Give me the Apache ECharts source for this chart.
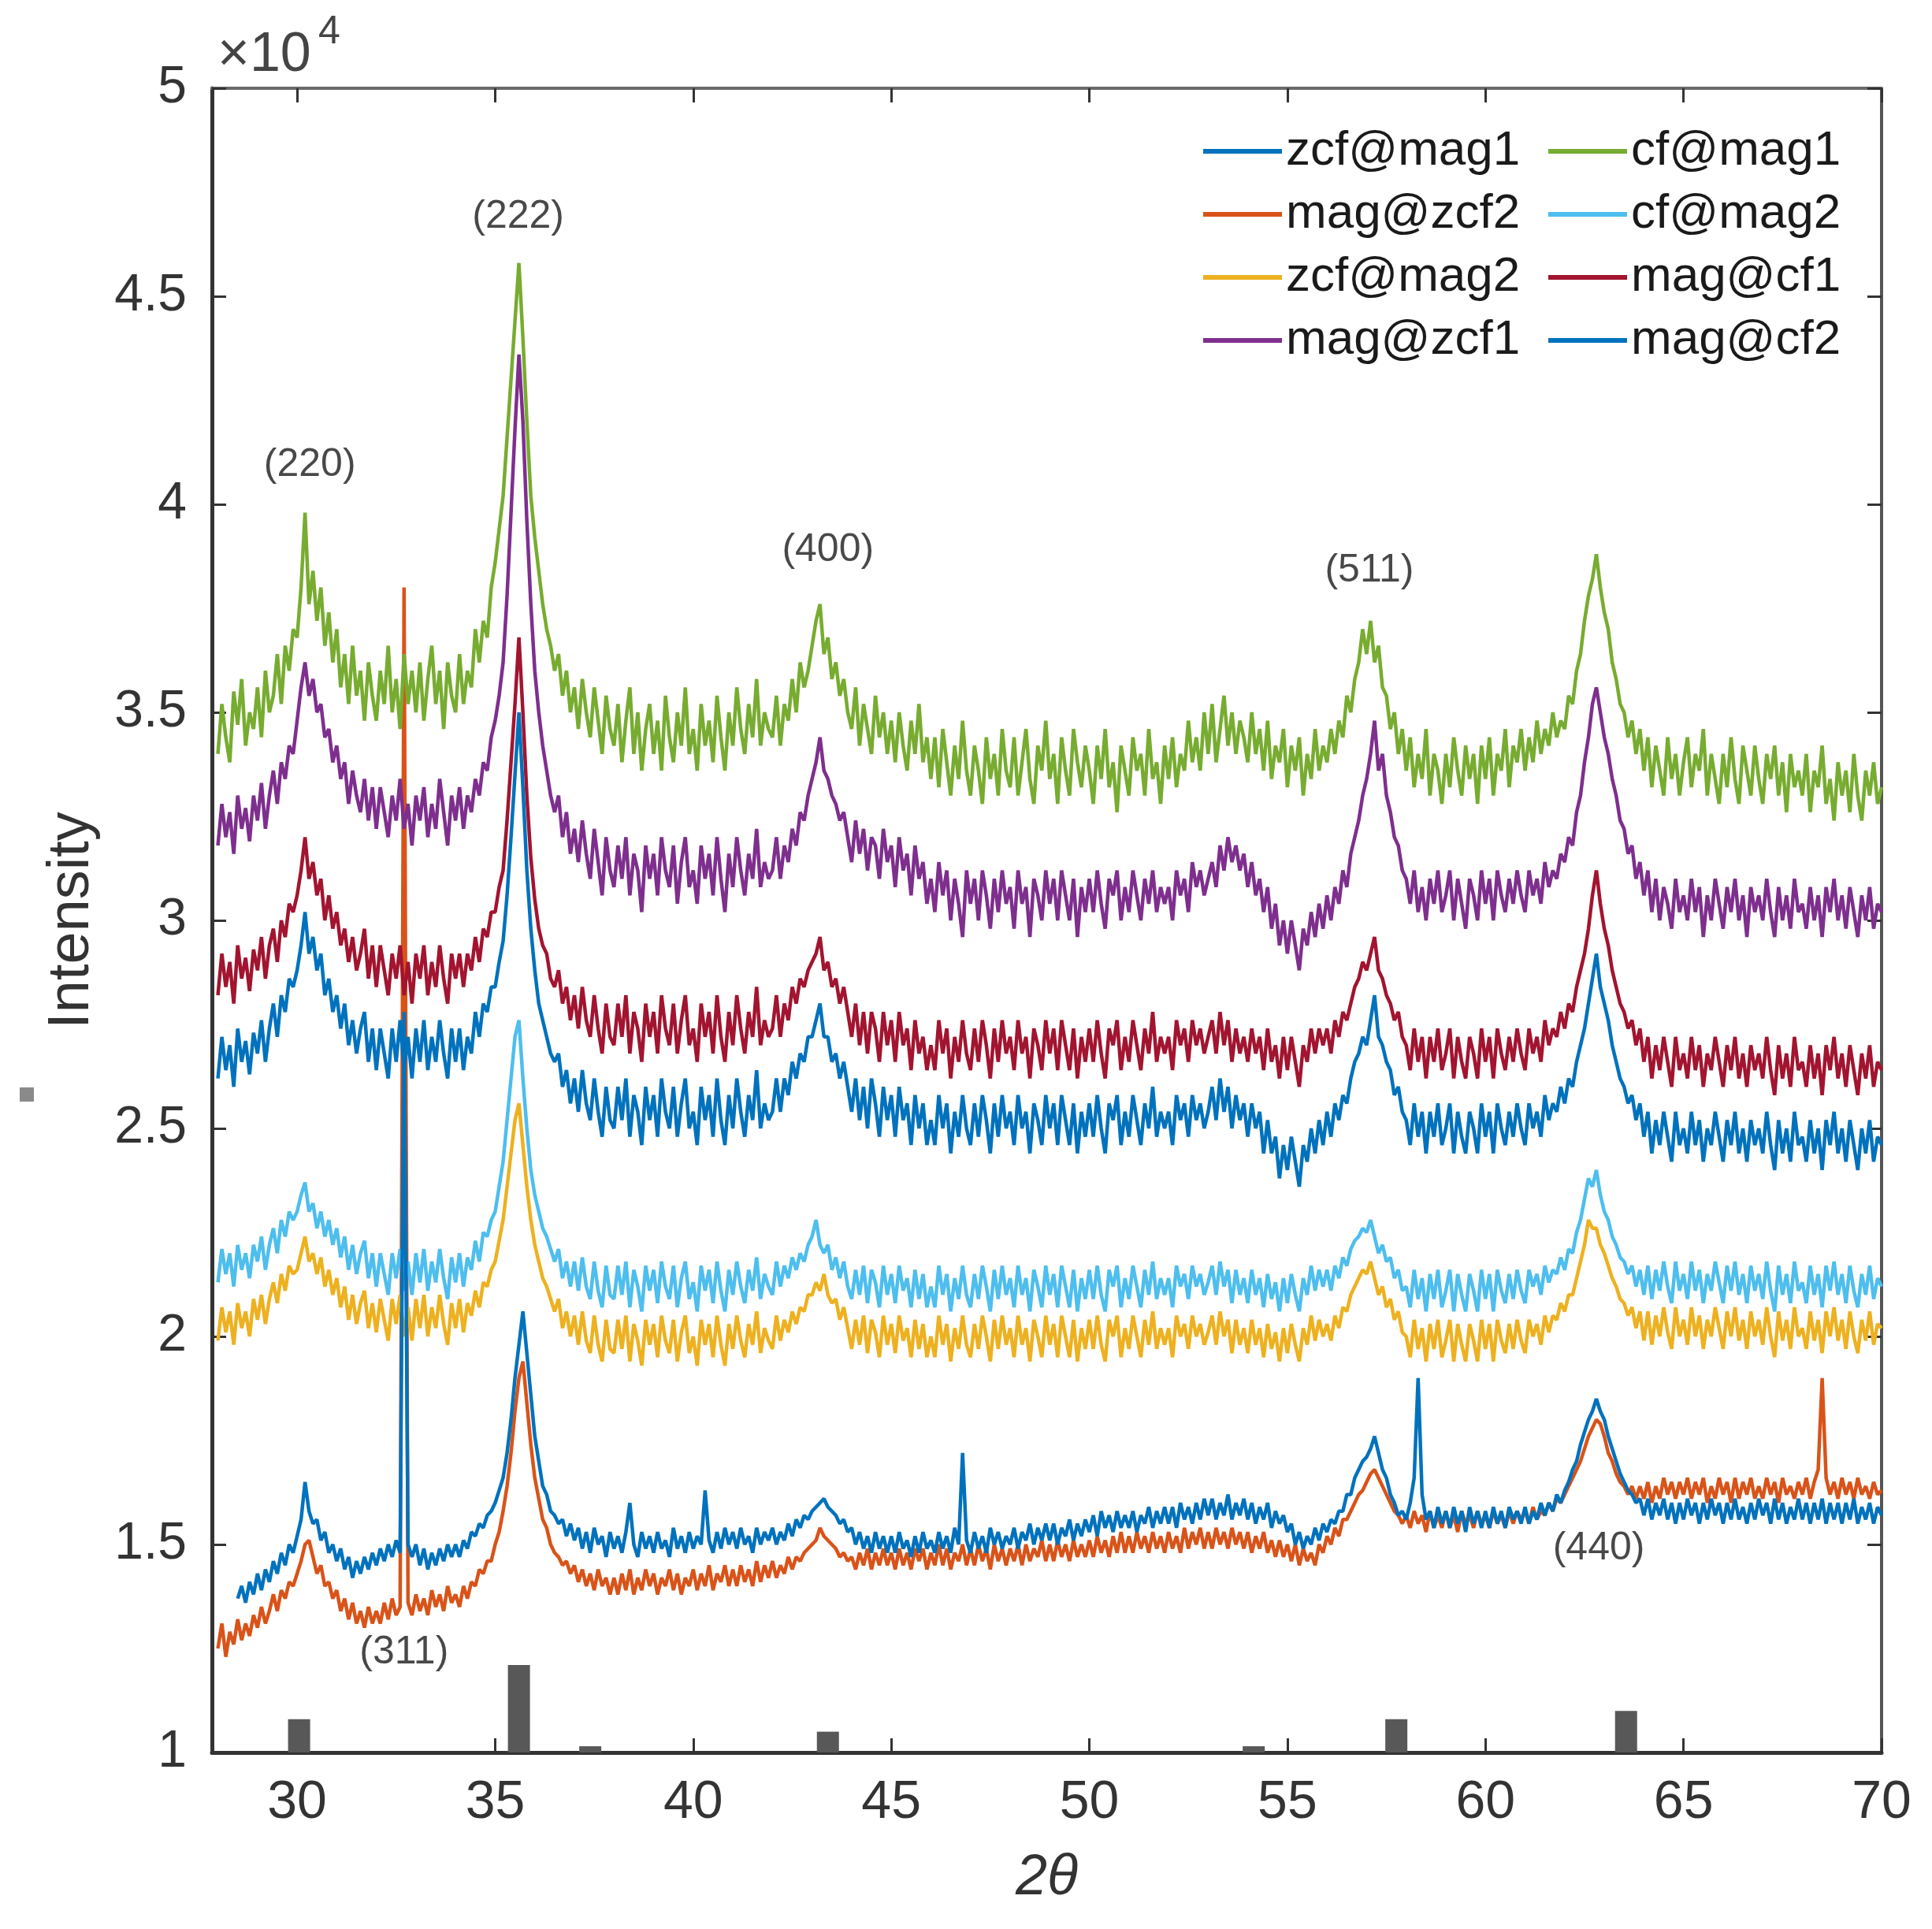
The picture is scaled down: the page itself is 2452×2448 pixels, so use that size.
<!DOCTYPE html>
<html>
<head>
<meta charset="utf-8">
<title>XRD patterns</title>
<script src="https://cdn.jsdelivr.net/npm/echarts@6.0.0/dist/echarts.min.js"></script>
<style>
  html, body { margin: 0; padding: 0; background: #fff; }
  #chart { width: 2452px; height: 2448px; }
</style>
</head>
<body>
<div id="chart"></div>
<script>
// scan 28 -> 70 deg, values read every 0.1 deg (intensity in 1e4 counts)
// one row = one degree
var thetaStart = 28, thetaStep = 0.1;

var zcfMag1 = [
  null, null, null, null, null, 1.37, 1.40, 1.36, 1.41, 1.38,
  1.43, 1.39, 1.44, 1.41, 1.46, 1.43, 1.48, 1.45, 1.50, 1.48,
  1.52, 1.56, 1.65, 1.58, 1.55, 1.56, 1.51, 1.53, 1.48, 1.50,
  1.46, 1.49, 1.44, 1.47, 1.42, 1.46, 1.43, 1.47, 1.44, 1.48,
  1.45, 1.49, 1.46, 1.50, 1.47, 1.51, 1.48, 2.78, 1.50, 1.47,
  1.50, 1.45, 1.49, 1.44, 1.48, 1.45, 1.49, 1.46, 1.50, 1.47,
  1.50, 1.47, 1.51, 1.49, 1.53, 1.52, 1.55, 1.54, 1.57, 1.58,
  1.60, 1.63, 1.66, 1.72, 1.80, 1.90, 1.98, 2.06, 1.96, 1.86,
  1.76, 1.70, 1.64, 1.62, 1.58, 1.57, 1.55, 1.56, 1.52, 1.55,
  1.51, 1.54, 1.49, 1.53, 1.48, 1.54, 1.50, 1.52, 1.47, 1.53,
  1.49, 1.52, 1.48, 1.53, 1.60, 1.50, 1.47, 1.53, 1.49, 1.52,
  1.48, 1.53, 1.49, 1.51, 1.47, 1.54, 1.49, 1.52, 1.48, 1.53,
  1.49, 1.52, 1.50, 1.63, 1.51, 1.48, 1.53, 1.49, 1.54, 1.50,
  1.53, 1.49, 1.54, 1.50, 1.52, 1.48, 1.54, 1.50, 1.53, 1.51,
  1.54, 1.50, 1.53, 1.51, 1.55, 1.52, 1.56, 1.54, 1.57, 1.56,
  1.58, 1.59, 1.60, 1.61, 1.59, 1.58, 1.57, 1.55, 1.56, 1.53,
  1.54, 1.50, 1.53, 1.49, 1.52, 1.48, 1.53, 1.49, 1.52, 1.48,
  1.52, 1.48, 1.53, 1.49, 1.51, 1.47, 1.52, 1.48, 1.53, 1.49,
  1.51, 1.48, 1.53, 1.49, 1.52, 1.48, 1.54, 1.50, 1.72, 1.51,
  1.48, 1.53, 1.49, 1.52, 1.48, 1.54, 1.50, 1.53, 1.49, 1.52,
  1.50, 1.54, 1.49, 1.53, 1.51, 1.55, 1.50, 1.54, 1.51, 1.55,
  1.51, 1.55, 1.50, 1.54, 1.52, 1.56, 1.51, 1.55, 1.52, 1.56,
  1.53, 1.57, 1.52, 1.58, 1.54, 1.57, 1.53, 1.58, 1.54, 1.57,
  1.54, 1.58, 1.53, 1.57, 1.55, 1.59, 1.54, 1.58, 1.55, 1.59,
  1.55, 1.59, 1.54, 1.60, 1.56, 1.59, 1.55, 1.60, 1.56, 1.61,
  1.57, 1.61, 1.56, 1.60, 1.57, 1.62, 1.56, 1.60, 1.57, 1.61,
  1.56, 1.60, 1.55, 1.59, 1.56, 1.60, 1.54, 1.58, 1.55, 1.57,
  1.53, 1.55, 1.50, 1.53, 1.49, 1.52, 1.50, 1.54, 1.51, 1.55,
  1.53, 1.56, 1.55, 1.58, 1.58, 1.62, 1.62, 1.66, 1.68, 1.70,
  1.71, 1.73, 1.76, 1.72, 1.68, 1.66, 1.62, 1.60, 1.57, 1.58,
  1.56, 1.60, 1.66, 1.90, 1.62, 1.56, 1.58, 1.54, 1.59, 1.55,
  1.58, 1.54, 1.59, 1.55, 1.58, 1.53, 1.59, 1.55, 1.58, 1.54,
  1.58, 1.54, 1.59, 1.55, 1.58, 1.54, 1.59, 1.56, 1.58, 1.55,
  1.59, 1.55, 1.58, 1.56, 1.60, 1.57, 1.60, 1.58, 1.62, 1.60,
  1.63, 1.65, 1.68, 1.70, 1.74, 1.77, 1.80, 1.82, 1.85, 1.82,
  1.80, 1.76, 1.73, 1.70, 1.67, 1.65, 1.63, 1.62, 1.60, 1.61,
  1.57, 1.61, 1.56, 1.60, 1.57, 1.61, 1.56, 1.60, 1.55, 1.60,
  1.56, 1.61, 1.57, 1.60, 1.55, 1.60, 1.56, 1.61, 1.57, 1.60,
  1.55, 1.60, 1.56, 1.61, 1.56, 1.59, 1.55, 1.60, 1.56, 1.61,
  1.57, 1.60, 1.55, 1.61, 1.56, 1.60, 1.55, 1.59, 1.56, 1.61,
  1.56, 1.60, 1.55, 1.60, 1.56, 1.61, 1.55, 1.60, 1.56, 1.60,
  1.55, 1.60, 1.56, 1.61, 1.55, 1.59, 1.56, 1.60, 1.55, 1.59,
  1.57
];

var magZcf2 = [
  1.25, 1.31, 1.23, 1.29, 1.26, 1.32, 1.27, 1.31, 1.28, 1.33,
  1.30, 1.35, 1.31, 1.34, 1.38, 1.34, 1.39, 1.37, 1.41, 1.40,
  1.43, 1.46, 1.50, 1.51, 1.47, 1.43, 1.45, 1.40, 1.41, 1.37,
  1.39, 1.34, 1.37, 1.32, 1.36, 1.31, 1.34, 1.30, 1.35, 1.31,
  1.34, 1.31, 1.36, 1.32, 1.37, 1.33, 1.35, 3.80, 1.36, 1.33,
  1.38, 1.34, 1.37, 1.33, 1.39, 1.35, 1.38, 1.34, 1.40, 1.36,
  1.38, 1.35, 1.40, 1.37, 1.41, 1.40, 1.44, 1.43, 1.46, 1.46,
  1.50, 1.53, 1.58, 1.64, 1.72, 1.82, 1.90, 1.94, 1.84, 1.74,
  1.66, 1.61, 1.56, 1.54, 1.50, 1.48, 1.47, 1.45, 1.46, 1.43,
  1.45, 1.41, 1.44, 1.40, 1.43, 1.39, 1.44, 1.40, 1.42, 1.38,
  1.42, 1.38, 1.43, 1.39, 1.44, 1.38, 1.42, 1.39, 1.44, 1.40,
  1.43, 1.38, 1.42, 1.40, 1.44, 1.39, 1.43, 1.38, 1.42, 1.40,
  1.44, 1.39, 1.43, 1.40, 1.45, 1.39, 1.43, 1.41, 1.45, 1.40,
  1.44, 1.40, 1.45, 1.41, 1.44, 1.40, 1.46, 1.41, 1.45, 1.42,
  1.46, 1.42, 1.45, 1.43, 1.47, 1.44, 1.47, 1.46, 1.48, 1.49,
  1.50, 1.51, 1.54, 1.52, 1.51, 1.50, 1.49, 1.47, 1.48, 1.46,
  1.47, 1.44, 1.48, 1.45, 1.49, 1.44, 1.48, 1.45, 1.49, 1.45,
  1.48, 1.44, 1.49, 1.45, 1.48, 1.44, 1.49, 1.46, 1.49, 1.44,
  1.48, 1.45, 1.50, 1.45, 1.49, 1.44, 1.48, 1.46, 1.50, 1.45,
  1.49, 1.45, 1.50, 1.46, 1.49, 1.44, 1.50, 1.46, 1.49, 1.45,
  1.49, 1.46, 1.50, 1.45, 1.50, 1.46, 1.49, 1.47, 1.51, 1.46,
  1.50, 1.46, 1.51, 1.47, 1.50, 1.46, 1.51, 1.47, 1.50, 1.47,
  1.51, 1.47, 1.52, 1.48, 1.51, 1.47, 1.52, 1.48, 1.53, 1.48,
  1.52, 1.48, 1.53, 1.49, 1.52, 1.48, 1.53, 1.49, 1.52, 1.48,
  1.53, 1.49, 1.52, 1.48, 1.54, 1.49, 1.53, 1.50, 1.54, 1.49,
  1.53, 1.49, 1.54, 1.50, 1.53, 1.49, 1.54, 1.50, 1.53, 1.49,
  1.53, 1.48, 1.52, 1.49, 1.53, 1.48, 1.51, 1.47, 1.51, 1.47,
  1.50, 1.46, 1.50, 1.45, 1.49, 1.46, 1.48, 1.45, 1.50, 1.48,
  1.52, 1.50, 1.54, 1.52, 1.56, 1.56, 1.58, 1.60, 1.62, 1.63,
  1.65, 1.67, 1.68, 1.66, 1.64, 1.62, 1.60, 1.58, 1.57, 1.55,
  1.57, 1.54, 1.58, 1.55, 1.57, 1.53, 1.58, 1.54, 1.57, 1.54,
  1.58, 1.54, 1.57, 1.53, 1.58, 1.55, 1.57, 1.54, 1.58, 1.55,
  1.57, 1.54, 1.58, 1.55, 1.57, 1.54, 1.58, 1.55, 1.58, 1.56,
  1.58, 1.55, 1.59, 1.56, 1.58, 1.57, 1.60, 1.58, 1.61, 1.60,
  1.62, 1.64, 1.66, 1.68, 1.70, 1.73, 1.76, 1.78, 1.80, 1.79,
  1.76, 1.72, 1.70, 1.67, 1.65, 1.64, 1.62, 1.64, 1.61, 1.64,
  1.61, 1.65, 1.60, 1.64, 1.61, 1.66, 1.62, 1.65, 1.61, 1.65,
  1.62, 1.66, 1.61, 1.65, 1.62, 1.66, 1.60, 1.64, 1.61, 1.66,
  1.62, 1.65, 1.60, 1.66, 1.61, 1.65, 1.62, 1.66, 1.61, 1.64,
  1.61, 1.66, 1.62, 1.65, 1.60, 1.66, 1.62, 1.64, 1.61, 1.65,
  1.62, 1.66, 1.61, 1.65, 1.68, 1.90, 1.66, 1.62, 1.65, 1.61,
  1.66, 1.62, 1.65, 1.61, 1.66, 1.62, 1.64, 1.61, 1.65, 1.62,
  1.63
];

var zcfMag2 = [
  1.99, 2.07, 2.01, 2.06, 1.98, 2.08, 2.02, 2.06, 2.00, 2.09,
  2.04, 2.10, 2.03, 2.09, 2.13, 2.08, 2.15, 2.11, 2.17, 2.15,
  2.16, 2.20, 2.24, 2.18, 2.20, 2.15, 2.19, 2.12, 2.16, 2.10,
  2.14, 2.07, 2.12, 2.04, 2.10, 2.03, 2.08, 2.11, 2.02, 2.08,
  2.01, 2.09, 2.04, 1.99, 2.09, 2.03, 2.10, 2.00, 2.07, 1.99,
  2.09, 2.02, 2.10, 2.00, 2.07, 2.02, 2.10, 2.03, 1.98, 2.08,
  2.02, 2.09, 2.01, 2.08, 2.05, 2.11, 2.07, 2.13, 2.12, 2.16,
  2.18, 2.23, 2.28, 2.36, 2.44, 2.52, 2.56, 2.46, 2.36, 2.28,
  2.22, 2.18, 2.14, 2.12, 2.09, 2.06, 2.09, 2.02, 2.06, 2.00,
  2.05, 1.98, 2.06, 1.99, 1.96, 2.05, 1.98, 1.94, 2.04, 1.97,
  1.96, 2.04, 1.97, 2.05, 1.94, 2.03, 1.99, 1.93, 2.04, 1.98,
  2.03, 1.95, 2.05, 1.99, 1.96, 2.04, 1.94, 2.01, 2.05, 1.96,
  2.00, 1.93, 2.04, 1.98, 2.03, 1.95, 2.05, 1.98, 1.93, 2.03,
  1.97, 2.05, 1.99, 1.95, 2.03, 1.98, 2.06, 1.96, 2.02, 1.99,
  1.97, 2.05, 1.99, 2.04, 2.01, 2.06, 2.03, 2.07, 2.06, 2.10,
  2.10, 2.13, 2.11, 2.15, 2.10, 2.08, 2.09, 2.04, 2.07, 2.02,
  1.97, 2.04, 1.98, 2.05, 1.96, 2.04, 2.01, 1.95, 2.05, 1.98,
  2.03, 1.96, 2.05, 1.99, 2.02, 1.95, 2.04, 1.97, 2.03, 1.95,
  2.00, 1.95, 2.05, 1.98, 2.03, 1.94, 2.02, 1.97, 2.05, 1.98,
  1.95, 2.03, 1.97, 2.05, 2.00, 1.94, 2.04, 1.97, 2.05, 1.98,
  2.02, 1.95, 2.05, 1.98, 2.02, 1.94, 2.04, 2.00, 1.95, 2.05,
  1.98, 2.03, 1.95, 2.05, 2.00, 1.95, 2.04, 1.94, 2.02, 1.97,
  2.04, 1.97, 2.05, 1.98, 1.94, 2.04, 2.00, 2.05, 1.95, 2.02,
  1.97, 2.05, 2.00, 1.95, 2.04, 1.98, 2.06, 1.97, 2.02, 1.98,
  2.02, 1.95, 2.05, 2.00, 2.03, 1.97, 2.05, 2.00, 2.03, 1.98,
  2.01, 2.05, 1.98, 2.06, 2.00, 2.04, 1.96, 2.04, 1.98, 2.02,
  1.96, 2.04, 1.98, 2.02, 1.95, 2.03, 1.97, 2.01, 1.94, 2.02,
  1.96, 2.03, 1.98, 1.94, 2.02, 1.98, 2.05, 1.99, 2.04, 2.00,
  2.03, 1.99, 2.05, 2.02, 2.07, 2.06, 2.10, 2.12, 2.14, 2.16,
  2.15, 2.18, 2.14, 2.10, 2.12, 2.07, 2.09, 2.04, 2.06, 2.01,
  2.00, 1.95, 2.04, 1.97, 2.02, 1.94, 2.03, 1.97, 2.04, 1.95,
  1.99, 2.04, 1.94, 2.03, 1.98, 1.94, 2.03, 1.99, 1.94, 2.04,
  1.97, 2.03, 1.94, 2.04, 1.99, 1.96, 2.03, 1.97, 2.04, 1.99,
  1.96, 2.04, 2.00, 2.03, 1.98, 2.05, 2.01, 2.05, 2.04, 2.08,
  2.06, 2.10, 2.10, 2.14, 2.18, 2.22, 2.28, 2.26, 2.26, 2.22,
  2.20, 2.17, 2.14, 2.12, 2.09, 2.08, 2.05, 2.07, 2.02, 2.06,
  1.99, 2.06, 1.98, 2.05, 2.00, 2.07, 2.01, 1.97, 2.07, 2.00,
  2.04, 1.98, 2.07, 2.00, 2.05, 1.97, 2.04, 2.00, 2.07, 2.02,
  1.97, 2.06, 2.00, 2.07, 1.99, 2.04, 1.97, 2.06, 2.00, 2.04,
  1.98, 2.07, 2.00, 1.95, 2.06, 1.99, 2.04, 1.97, 2.07, 2.00,
  2.02, 1.97, 2.06, 1.99, 2.04, 1.96, 2.06, 2.00, 2.07, 1.99,
  2.04, 1.97, 2.06, 2.00, 1.96, 2.04, 1.99, 2.06, 1.98, 2.03,
  2.02
];

var magZcf1 = [
  3.18, 3.28, 3.20, 3.26, 3.16, 3.30, 3.22, 3.27, 3.19, 3.30,
  3.24, 3.33, 3.22, 3.30, 3.36, 3.28, 3.38, 3.34, 3.42, 3.40,
  3.48, 3.56, 3.62, 3.54, 3.58, 3.50, 3.52, 3.44, 3.46, 3.38,
  3.42, 3.34, 3.38, 3.28, 3.36, 3.30, 3.26, 3.34, 3.24, 3.32,
  3.22, 3.32, 3.26, 3.20, 3.30, 3.24, 3.34, 3.22, 3.28, 3.18,
  3.30, 3.24, 3.32, 3.20, 3.28, 3.22, 3.34, 3.26, 3.18, 3.30,
  3.24, 3.32, 3.22, 3.30, 3.26, 3.34, 3.30, 3.38, 3.36, 3.44,
  3.48, 3.54, 3.62, 3.78, 3.98, 4.18, 4.36, 4.20, 3.96, 3.76,
  3.60, 3.50, 3.42, 3.36, 3.30, 3.26, 3.30, 3.20, 3.26, 3.16,
  3.22, 3.14, 3.24, 3.16, 3.10, 3.22, 3.14, 3.06, 3.20, 3.12,
  3.08, 3.18, 3.10, 3.20, 3.06, 3.16, 3.12, 3.02, 3.18, 3.10,
  3.16, 3.06, 3.20, 3.12, 3.08, 3.18, 3.04, 3.14, 3.20, 3.08,
  3.12, 3.04, 3.18, 3.10, 3.16, 3.06, 3.20, 3.10, 3.02, 3.16,
  3.08, 3.20, 3.12, 3.06, 3.16, 3.10, 3.22, 3.08, 3.14, 3.10,
  3.12, 3.20, 3.10, 3.18, 3.14, 3.22, 3.18, 3.26, 3.24, 3.30,
  3.34, 3.38, 3.44, 3.36, 3.34, 3.30, 3.28, 3.24, 3.26, 3.20,
  3.14, 3.24, 3.16, 3.22, 3.12, 3.20, 3.18, 3.10, 3.22, 3.14,
  3.18, 3.08, 3.20, 3.12, 3.16, 3.06, 3.18, 3.10, 3.14, 3.04,
  3.10, 3.02, 3.14, 3.06, 3.12, 3.00, 3.10, 3.04, 2.96, 3.12,
  3.04, 3.10, 3.00, 3.12, 3.06, 2.98, 3.10, 3.02, 3.12, 3.04,
  3.08, 2.98, 3.12, 3.04, 3.08, 2.96, 3.10, 3.06, 3.00, 3.12,
  3.04, 3.10, 3.00, 3.12, 3.06, 3.00, 3.10, 2.96, 3.08, 3.02,
  3.10, 3.02, 3.12, 3.04, 2.98, 3.10, 3.06, 3.12, 3.00, 3.08,
  3.02, 3.12, 3.06, 3.00, 3.10, 3.04, 3.12, 3.02, 3.08, 3.04,
  3.08, 3.00, 3.12, 3.06, 3.10, 3.02, 3.14, 3.08, 3.12, 3.06,
  3.10, 3.14, 3.08, 3.18, 3.12, 3.20, 3.14, 3.18, 3.12, 3.16,
  3.08, 3.14, 3.06, 3.10, 3.02, 3.08, 2.98, 3.04, 2.94, 3.00,
  2.92, 3.00, 2.94, 2.88, 2.98, 2.94, 3.02, 2.96, 3.04, 2.98,
  3.06, 3.00, 3.08, 3.04, 3.12, 3.08, 3.16, 3.20, 3.24, 3.30,
  3.34, 3.40, 3.48, 3.36, 3.40, 3.30, 3.26, 3.20, 3.18, 3.12,
  3.10, 3.04, 3.12, 3.02, 3.08, 3.00, 3.10, 3.04, 3.12, 3.02,
  3.06, 3.12, 3.00, 3.10, 3.04, 2.98, 3.10, 3.06, 3.00, 3.12,
  3.04, 3.10, 3.00, 3.12, 3.06, 3.02, 3.10, 3.04, 3.12, 3.06,
  3.02, 3.12, 3.06, 3.10, 3.04, 3.14, 3.08, 3.12, 3.10, 3.16,
  3.14, 3.20, 3.18, 3.26, 3.30, 3.38, 3.44, 3.52, 3.56, 3.50,
  3.44, 3.40, 3.34, 3.30, 3.24, 3.22, 3.16, 3.18, 3.10, 3.14,
  3.06, 3.12, 3.02, 3.10, 3.00, 3.08, 3.04, 2.98, 3.10, 3.02,
  3.06, 3.00, 3.10, 3.02, 3.08, 2.96, 3.06, 3.00, 3.10, 3.04,
  2.98, 3.08, 3.02, 3.10, 3.00, 3.06, 2.96, 3.08, 3.02, 3.06,
  3.00, 3.10, 3.02, 2.96, 3.08, 3.00, 3.06, 2.98, 3.10, 3.02,
  3.04, 2.98, 3.08, 3.00, 3.06, 2.96, 3.08, 3.02, 3.10, 3.00,
  3.06, 2.98, 3.08, 3.02, 2.96, 3.06, 3.00, 3.08, 2.98, 3.04,
  3.02
];

var cfMag1 = [
  3.40, 3.52, 3.44, 3.38, 3.55, 3.47, 3.58, 3.42, 3.50, 3.46,
  3.56, 3.44, 3.60, 3.50, 3.54, 3.64, 3.52, 3.66, 3.60, 3.70,
  3.68, 3.80, 3.98, 3.76, 3.84, 3.72, 3.80, 3.66, 3.74, 3.62,
  3.70, 3.56, 3.64, 3.52, 3.66, 3.54, 3.60, 3.48, 3.62, 3.54,
  3.48, 3.60, 3.52, 3.66, 3.50, 3.58, 3.46, 3.64, 3.52, 3.60,
  3.50, 3.62, 3.48, 3.58, 3.66, 3.52, 3.60, 3.46, 3.62, 3.54,
  3.50, 3.64, 3.52, 3.60, 3.56, 3.70, 3.62, 3.72, 3.68, 3.80,
  3.86, 3.94, 4.02, 4.16, 4.30, 4.44, 4.58, 4.40, 4.20, 4.02,
  3.92, 3.84, 3.76, 3.70, 3.66, 3.60, 3.64, 3.54, 3.60, 3.50,
  3.56, 3.46, 3.58, 3.50, 3.44, 3.56, 3.48, 3.40, 3.54, 3.46,
  3.42, 3.52, 3.38, 3.48, 3.56, 3.40, 3.50, 3.36, 3.46, 3.52,
  3.40, 3.48, 3.36, 3.54, 3.44, 3.38, 3.50, 3.42, 3.56, 3.40,
  3.46, 3.36, 3.52, 3.42, 3.48, 3.38, 3.54, 3.44, 3.36, 3.50,
  3.42, 3.56, 3.46, 3.40, 3.52, 3.44, 3.58, 3.42, 3.50, 3.46,
  3.44, 3.54, 3.42, 3.52, 3.48, 3.58, 3.50, 3.62, 3.56, 3.60,
  3.66, 3.72, 3.76, 3.64, 3.68, 3.58, 3.62, 3.54, 3.58, 3.50,
  3.46, 3.56, 3.42, 3.52, 3.46, 3.40, 3.54, 3.44, 3.50, 3.40,
  3.48, 3.38, 3.50, 3.42, 3.36, 3.48, 3.40, 3.52, 3.38, 3.44,
  3.34, 3.44, 3.32, 3.46, 3.38, 3.30, 3.42, 3.34, 3.48, 3.36,
  3.30, 3.42, 3.36, 3.28, 3.44, 3.34, 3.40, 3.30, 3.46, 3.36,
  3.32, 3.44, 3.30, 3.38, 3.46, 3.34, 3.28, 3.42, 3.36, 3.48,
  3.34, 3.40, 3.28, 3.44, 3.36, 3.30, 3.46, 3.38, 3.32, 3.42,
  3.36, 3.28, 3.42, 3.34, 3.46, 3.32, 3.38, 3.26, 3.42, 3.36,
  3.30, 3.44, 3.36, 3.40, 3.30, 3.46, 3.34, 3.38, 3.28, 3.42,
  3.34, 3.44, 3.32, 3.40, 3.36, 3.48, 3.38, 3.44, 3.36, 3.50,
  3.40, 3.52, 3.38, 3.46, 3.54, 3.42, 3.50, 3.40, 3.48, 3.44,
  3.38, 3.50, 3.40, 3.46, 3.36, 3.48, 3.34, 3.42, 3.38, 3.46,
  3.32, 3.42, 3.36, 3.44, 3.30, 3.40, 3.34, 3.46, 3.36, 3.42,
  3.38, 3.46, 3.40, 3.48, 3.44, 3.54, 3.50, 3.58, 3.62, 3.70,
  3.64, 3.72, 3.62, 3.66, 3.56, 3.54, 3.46, 3.50, 3.40, 3.46,
  3.36, 3.44, 3.32, 3.40, 3.34, 3.46, 3.30, 3.40, 3.36, 3.28,
  3.40, 3.32, 3.44, 3.36, 3.30, 3.42, 3.34, 3.40, 3.28, 3.42,
  3.34, 3.44, 3.30, 3.40, 3.36, 3.46, 3.32, 3.42, 3.38, 3.46,
  3.36, 3.44, 3.38, 3.48, 3.40, 3.46, 3.42, 3.50, 3.44, 3.48,
  3.46, 3.54, 3.52, 3.60, 3.64, 3.72, 3.78, 3.82, 3.88, 3.80,
  3.74, 3.70, 3.62, 3.58, 3.52, 3.50, 3.44, 3.48, 3.40, 3.46,
  3.36, 3.44, 3.32, 3.42, 3.36, 3.30, 3.44, 3.34, 3.40, 3.30,
  3.38, 3.44, 3.32, 3.40, 3.36, 3.46, 3.30, 3.40, 3.34, 3.28,
  3.40, 3.32, 3.44, 3.34, 3.28, 3.42, 3.36, 3.30, 3.42, 3.34,
  3.28, 3.40, 3.34, 3.42, 3.30, 3.38, 3.26, 3.40, 3.32, 3.36,
  3.30, 3.40, 3.26, 3.36, 3.32, 3.42, 3.28, 3.34, 3.24, 3.38,
  3.30, 3.36, 3.26, 3.40, 3.30, 3.24, 3.36, 3.30, 3.38, 3.28,
  3.32
];

var cfMag2 = [
  2.13, 2.21, 2.15, 2.20, 2.12, 2.22, 2.16, 2.20, 2.14, 2.22,
  2.18, 2.24, 2.16, 2.22, 2.26, 2.20, 2.28, 2.24, 2.30, 2.28,
  2.30, 2.34, 2.37, 2.30, 2.32, 2.26, 2.30, 2.24, 2.28, 2.22,
  2.26, 2.19, 2.24, 2.16, 2.22, 2.15, 2.20, 2.23, 2.14, 2.20,
  2.12, 2.20, 2.15, 2.10, 2.20, 2.14, 2.21, 2.11, 2.18, 2.10,
  2.20, 2.13, 2.21, 2.11, 2.18, 2.13, 2.21, 2.14, 2.09, 2.19,
  2.13, 2.20, 2.12, 2.19, 2.16, 2.23, 2.18, 2.25, 2.24, 2.28,
  2.30, 2.36, 2.42, 2.52, 2.62, 2.72, 2.76, 2.62, 2.50, 2.40,
  2.34, 2.30, 2.26, 2.24, 2.21, 2.18, 2.21, 2.14, 2.18, 2.12,
  2.18, 2.11, 2.19, 2.12, 2.09, 2.18, 2.11, 2.07, 2.17, 2.10,
  2.09, 2.17, 2.10, 2.18, 2.07, 2.16, 2.12, 2.06, 2.17, 2.11,
  2.16, 2.08, 2.18, 2.12, 2.09, 2.17, 2.07, 2.14, 2.18, 2.09,
  2.13, 2.06, 2.17, 2.11, 2.16, 2.08, 2.18, 2.11, 2.06, 2.16,
  2.10, 2.18, 2.12, 2.08, 2.16, 2.11, 2.19, 2.09, 2.15, 2.12,
  2.10, 2.18, 2.12, 2.17, 2.14, 2.19, 2.16, 2.20, 2.18, 2.22,
  2.24, 2.28, 2.22, 2.20, 2.22, 2.16, 2.19, 2.14, 2.18, 2.12,
  2.09, 2.16, 2.10, 2.17, 2.08, 2.16, 2.13, 2.07, 2.17, 2.10,
  2.15, 2.08, 2.17, 2.11, 2.14, 2.07, 2.16, 2.09, 2.15, 2.07,
  2.12, 2.07, 2.17, 2.10, 2.15, 2.06, 2.14, 2.09, 2.17, 2.10,
  2.07, 2.15, 2.09, 2.17, 2.12, 2.06, 2.16, 2.09, 2.17, 2.10,
  2.14, 2.07, 2.17, 2.10, 2.14, 2.06, 2.16, 2.12, 2.07, 2.17,
  2.10, 2.15, 2.07, 2.17, 2.12, 2.07, 2.16, 2.06, 2.14, 2.09,
  2.16, 2.09, 2.17, 2.10, 2.06, 2.16, 2.12, 2.17, 2.07, 2.14,
  2.09, 2.17, 2.12, 2.07, 2.16, 2.10, 2.18, 2.09, 2.14, 2.10,
  2.14, 2.07, 2.17, 2.12, 2.15, 2.09, 2.17, 2.12, 2.15, 2.10,
  2.13, 2.17, 2.10, 2.18, 2.12, 2.16, 2.08, 2.16, 2.10, 2.14,
  2.08, 2.16, 2.10, 2.14, 2.07, 2.15, 2.09, 2.13, 2.06, 2.14,
  2.08, 2.15, 2.10, 2.06, 2.14, 2.10, 2.17, 2.11, 2.16, 2.12,
  2.16, 2.11, 2.17, 2.14, 2.19, 2.17, 2.21, 2.23, 2.24, 2.26,
  2.25, 2.28, 2.24, 2.20, 2.22, 2.18, 2.19, 2.14, 2.16, 2.11,
  2.12, 2.07, 2.16, 2.09, 2.14, 2.06, 2.15, 2.09, 2.16, 2.07,
  2.11, 2.16, 2.06, 2.15, 2.10, 2.06, 2.15, 2.11, 2.06, 2.16,
  2.09, 2.15, 2.06, 2.16, 2.11, 2.08, 2.15, 2.09, 2.16, 2.11,
  2.08, 2.16, 2.12, 2.15, 2.10, 2.17, 2.13, 2.16, 2.15, 2.19,
  2.16, 2.21, 2.20, 2.25, 2.28, 2.33, 2.38, 2.36, 2.40, 2.34,
  2.30, 2.28, 2.24, 2.22, 2.19, 2.18, 2.15, 2.17, 2.12, 2.16,
  2.10, 2.17, 2.09, 2.16, 2.11, 2.18, 2.12, 2.08, 2.18, 2.11,
  2.15, 2.09, 2.18, 2.11, 2.16, 2.08, 2.15, 2.11, 2.18, 2.13,
  2.08, 2.17, 2.11, 2.18, 2.10, 2.15, 2.08, 2.17, 2.11, 2.15,
  2.09, 2.18, 2.11, 2.06, 2.17, 2.10, 2.15, 2.08, 2.18, 2.11,
  2.13, 2.08, 2.17, 2.10, 2.15, 2.07, 2.17, 2.11, 2.18, 2.10,
  2.15, 2.08, 2.17, 2.11, 2.07, 2.15, 2.10, 2.17, 2.09, 2.14,
  2.12
];

var magCf1 = [
  2.82, 2.92, 2.84, 2.90, 2.80, 2.94, 2.86, 2.91, 2.83, 2.93,
  2.88, 2.96, 2.86, 2.94, 2.98, 2.90, 3.00, 2.96, 3.04, 3.02,
  3.06, 3.12, 3.20, 3.10, 3.14, 3.06, 3.10, 3.00, 3.06, 2.98,
  3.02, 2.94, 2.98, 2.90, 2.96, 2.88, 2.92, 2.98, 2.86, 2.94,
  2.84, 2.94, 2.88, 2.82, 2.92, 2.86, 2.94, 2.82, 2.90, 2.80,
  2.92, 2.86, 2.94, 2.82, 2.90, 2.84, 2.94, 2.86, 2.80, 2.92,
  2.86, 2.92, 2.84, 2.92, 2.88, 2.96, 2.90, 2.98, 2.96, 3.02,
  3.02, 3.08, 3.12, 3.24, 3.38, 3.52, 3.68, 3.50, 3.30, 3.15,
  3.05, 2.98, 2.94, 2.92, 2.86, 2.84, 2.88, 2.80, 2.84, 2.76,
  2.82, 2.74, 2.84, 2.76, 2.72, 2.82, 2.74, 2.68, 2.80, 2.72,
  2.70, 2.80, 2.72, 2.82, 2.68, 2.78, 2.74, 2.66, 2.80, 2.72,
  2.78, 2.68, 2.82, 2.74, 2.70, 2.80, 2.68, 2.76, 2.82, 2.70,
  2.74, 2.66, 2.80, 2.72, 2.78, 2.68, 2.82, 2.72, 2.66, 2.78,
  2.70, 2.82, 2.74, 2.68, 2.78, 2.72, 2.84, 2.70, 2.76, 2.72,
  2.74, 2.82, 2.72, 2.80, 2.76, 2.84, 2.80, 2.86, 2.84, 2.88,
  2.90, 2.92, 2.96, 2.88, 2.90, 2.84, 2.86, 2.80, 2.84, 2.78,
  2.72, 2.80, 2.70, 2.78, 2.68, 2.78, 2.74, 2.66, 2.78, 2.70,
  2.76, 2.66, 2.78, 2.70, 2.74, 2.64, 2.76, 2.68, 2.72, 2.64,
  2.70, 2.64, 2.76, 2.68, 2.74, 2.62, 2.72, 2.66, 2.76, 2.68,
  2.64, 2.74, 2.66, 2.76, 2.70, 2.62, 2.74, 2.66, 2.76, 2.68,
  2.72, 2.64, 2.76, 2.68, 2.72, 2.62, 2.74, 2.70, 2.64, 2.76,
  2.68, 2.74, 2.64, 2.76, 2.70, 2.64, 2.74, 2.62, 2.72, 2.66,
  2.74, 2.66, 2.76, 2.68, 2.62, 2.74, 2.70, 2.76, 2.64, 2.72,
  2.66, 2.76, 2.70, 2.64, 2.74, 2.68, 2.78, 2.66, 2.72, 2.68,
  2.72, 2.64, 2.76, 2.70, 2.74, 2.66, 2.76, 2.70, 2.74, 2.68,
  2.72, 2.76, 2.68, 2.78, 2.70, 2.76, 2.66, 2.74, 2.68, 2.72,
  2.66, 2.74, 2.68, 2.72, 2.64, 2.74, 2.66, 2.70, 2.62, 2.72,
  2.64, 2.72, 2.66, 2.60, 2.70, 2.66, 2.74, 2.68, 2.74, 2.70,
  2.74, 2.68, 2.76, 2.72, 2.78, 2.76, 2.80, 2.84, 2.86, 2.90,
  2.88, 2.92, 2.96, 2.88, 2.86, 2.82, 2.80, 2.76, 2.78, 2.72,
  2.70, 2.64, 2.74, 2.66, 2.72, 2.62, 2.72, 2.66, 2.74, 2.64,
  2.68, 2.74, 2.62, 2.72, 2.66, 2.62, 2.72, 2.68, 2.62, 2.74,
  2.66, 2.72, 2.62, 2.74, 2.68, 2.64, 2.72, 2.66, 2.74, 2.68,
  2.64, 2.74, 2.68, 2.72, 2.66, 2.76, 2.70, 2.74, 2.72, 2.78,
  2.74, 2.80, 2.78, 2.84, 2.88, 2.92, 2.98, 3.06, 3.12, 3.04,
  2.98, 2.94, 2.88, 2.84, 2.80, 2.78, 2.74, 2.76, 2.70, 2.74,
  2.66, 2.72, 2.62, 2.70, 2.64, 2.72, 2.66, 2.60, 2.72, 2.64,
  2.68, 2.62, 2.72, 2.64, 2.70, 2.60, 2.68, 2.64, 2.72, 2.66,
  2.60, 2.70, 2.64, 2.72, 2.62, 2.68, 2.60, 2.70, 2.64, 2.68,
  2.62, 2.72, 2.64, 2.58, 2.70, 2.62, 2.68, 2.60, 2.72, 2.64,
  2.66, 2.60, 2.70, 2.62, 2.68, 2.58, 2.70, 2.64, 2.72, 2.62,
  2.68, 2.60, 2.70, 2.64, 2.58, 2.68, 2.62, 2.70, 2.60, 2.66,
  2.64
];

var magCf2 = [
  2.62, 2.72, 2.64, 2.70, 2.60, 2.74, 2.66, 2.71, 2.63, 2.73,
  2.68, 2.76, 2.66, 2.74, 2.80, 2.72, 2.82, 2.78, 2.86, 2.84,
  2.88, 2.94, 3.02, 2.92, 2.96, 2.88, 2.92, 2.82, 2.86, 2.78,
  2.82, 2.74, 2.80, 2.70, 2.76, 2.68, 2.74, 2.78, 2.66, 2.74,
  2.64, 2.74, 2.68, 2.62, 2.74, 2.66, 2.76, 2.64, 2.72, 2.62,
  2.74, 2.66, 2.76, 2.64, 2.72, 2.66, 2.76, 2.68, 2.62, 2.74,
  2.66, 2.74, 2.64, 2.72, 2.68, 2.78, 2.72, 2.80, 2.78, 2.84,
  2.84, 2.90, 2.95, 3.06, 3.20, 3.35, 3.50, 3.32, 3.12, 2.98,
  2.88, 2.80, 2.76, 2.72, 2.68, 2.66, 2.68, 2.60, 2.64, 2.56,
  2.62, 2.54, 2.64, 2.56, 2.52, 2.62, 2.54, 2.48, 2.60, 2.52,
  2.50, 2.60, 2.52, 2.62, 2.48, 2.58, 2.54, 2.46, 2.60, 2.52,
  2.58, 2.48, 2.62, 2.54, 2.50, 2.60, 2.48, 2.56, 2.62, 2.50,
  2.54, 2.46, 2.60, 2.52, 2.58, 2.48, 2.62, 2.52, 2.46, 2.58,
  2.50, 2.62, 2.54, 2.48, 2.58, 2.52, 2.64, 2.50, 2.56, 2.52,
  2.54, 2.62, 2.54, 2.62, 2.58, 2.66, 2.62, 2.68, 2.66, 2.72,
  2.72, 2.76, 2.80, 2.72, 2.72, 2.66, 2.68, 2.62, 2.66, 2.60,
  2.54, 2.62, 2.52, 2.60, 2.50, 2.62, 2.56, 2.48, 2.60, 2.52,
  2.58, 2.48, 2.60, 2.52, 2.56, 2.46, 2.58, 2.50, 2.56, 2.46,
  2.52, 2.46, 2.58, 2.50, 2.56, 2.44, 2.54, 2.48, 2.58, 2.50,
  2.46, 2.56, 2.48, 2.58, 2.52, 2.44, 2.56, 2.48, 2.58, 2.50,
  2.54, 2.46, 2.58, 2.50, 2.54, 2.44, 2.56, 2.52, 2.46, 2.58,
  2.50, 2.56, 2.46, 2.58, 2.52, 2.46, 2.56, 2.44, 2.54, 2.48,
  2.56, 2.48, 2.58, 2.50, 2.44, 2.56, 2.52, 2.58, 2.46, 2.54,
  2.48, 2.58, 2.52, 2.46, 2.56, 2.50, 2.60, 2.48, 2.54, 2.50,
  2.54, 2.46, 2.58, 2.52, 2.56, 2.48, 2.58, 2.52, 2.56, 2.50,
  2.54, 2.60, 2.52, 2.62, 2.54, 2.60, 2.50, 2.58, 2.52, 2.56,
  2.48, 2.56, 2.50, 2.54, 2.44, 2.52, 2.44, 2.48, 2.38, 2.46,
  2.40, 2.48, 2.42, 2.36, 2.46, 2.42, 2.50, 2.44, 2.52, 2.46,
  2.54, 2.48, 2.56, 2.52, 2.58, 2.56, 2.62, 2.66, 2.68, 2.72,
  2.70, 2.76, 2.82, 2.72, 2.70, 2.66, 2.64, 2.58, 2.60, 2.54,
  2.52, 2.46, 2.56, 2.48, 2.54, 2.44, 2.54, 2.48, 2.56, 2.46,
  2.50, 2.56, 2.44, 2.54, 2.48, 2.44, 2.54, 2.50, 2.44, 2.56,
  2.48, 2.54, 2.44, 2.56, 2.50, 2.46, 2.54, 2.48, 2.56, 2.50,
  2.46, 2.56, 2.50, 2.54, 2.48, 2.58, 2.52, 2.56, 2.54, 2.60,
  2.56, 2.62, 2.60, 2.66, 2.70, 2.74, 2.80, 2.86, 2.92, 2.84,
  2.80, 2.76, 2.70, 2.66, 2.62, 2.60, 2.56, 2.58, 2.52, 2.56,
  2.48, 2.54, 2.44, 2.52, 2.46, 2.54, 2.48, 2.42, 2.54, 2.46,
  2.50, 2.44, 2.54, 2.46, 2.52, 2.42, 2.50, 2.46, 2.54, 2.48,
  2.42, 2.52, 2.46, 2.54, 2.44, 2.50, 2.42, 2.52, 2.46, 2.50,
  2.44, 2.54, 2.46, 2.40, 2.52, 2.44, 2.50, 2.42, 2.54, 2.46,
  2.48, 2.42, 2.52, 2.44, 2.50, 2.40, 2.52, 2.46, 2.54, 2.44,
  2.50, 2.42, 2.52, 2.46, 2.40, 2.50, 2.44, 2.52, 2.42, 2.48,
  2.46
];

var seriesNames = ['zcf@mag1', 'mag@zcf2', 'zcf@mag2', 'mag@zcf1',
                   'cf@mag1', 'cf@mag2', 'mag@cf1', 'mag@cf2'];
var seriesValues = [zcfMag1, magZcf2, zcfMag2, magZcf1, cfMag1, cfMag2, magCf1, magCf2];
var seriesColors = ['#0072BD', '#D95319', '#EDB120', '#7E2F8E',
                    '#77AC30', '#4DBEEE', '#A2142F', '#0072BD'];

// reference pattern sticks
var refTheta = [30.05, 35.6, 37.4, 43.4, 54.15, 57.75, 63.55];
var refIntensity = [1.08, 1.21, 1.015, 1.05, 1.015, 1.08, 1.10];

// hkl annotations
var hklText = ['(220)', '(222)', '(400)', '(511)', '(440)', '(311)'];
var hklTheta = [30.32, 35.58, 43.40, 57.07, 62.86, 32.70];
var hklIntensity = [4.095, 4.69, 3.89, 3.84, 1.49, 1.24];

var xTicks = [30, 35, 40, 45, 50, 55, 60, 65, 70];

var chart = echarts.init(document.getElementById('chart'));
var font = "'Liberation Sans', Arial, Helvetica, sans-serif";
var axisColor = '#333333';

function toPairs(vals) {
  var out = [];
  for (var i = 0; i < vals.length; i++) {
    out.push([+(thetaStart + i * thetaStep).toFixed(1), vals[i]]);
  }
  return out;
}

var series = [];
for (var k = 0; k < seriesNames.length; k++) {
  series.push({
    type: 'line',
    name: seriesNames[k],
    data: toPairs(seriesValues[k]),
    symbol: 'none',
    connectNulls: false,
    lineStyle: { width: 4.5, color: seriesColors[k] },
    itemStyle: { color: seriesColors[k] },
    z: k === 0 ? 4 : 3
  });
}

series.push({
  type: 'bar',
  name: 'reference',
  data: refTheta.map(function (t, i) { return [t, refIntensity[i]]; }),
  barWidth: 28,
  itemStyle: { color: '#585858' },
  z: 2
});

series.push({
  type: 'scatter',
  name: 'hkl',
  data: hklTheta.map(function (t, i) { return [t, hklIntensity[i]]; }),
  symbolSize: 0,
  silent: true,
  label: {
    show: true,
    position: 'inside',
    formatter: function (p) { return hklText[p.dataIndex]; },
    fontSize: 50,
    fontFamily: font,
    color: '#1a1a1a'
  },
  z: 6
});

var legendBase = {
  orient: 'vertical',
  top: 156,
  icon: 'rect',
  itemWidth: 100,
  itemHeight: 6,
  itemGap: 18,
  textStyle: { fontSize: 62, fontFamily: font, color: '#1a1a1a', lineHeight: 62 }
};

var option = {
  animation: false,
  backgroundColor: '#ffffff',
  grid: { left: 269, right: 64, top: 112, bottom: 224, containLabel: false },
  legend: [
    Object.assign({}, legendBase, { left: 1522, data: seriesNames.slice(0, 4) }),
    Object.assign({}, legendBase, { left: 1960, data: seriesNames.slice(4, 8) })
  ],
  xAxis: [{
    type: 'value',
    min: 27.85,
    max: 70,
    name: '2θ',
    nameLocation: 'middle',
    nameGap: 124,
    nameTextStyle: { fontSize: 72, fontStyle: 'italic', fontFamily: font, color: axisColor },
    axisLine: { onZero: false, lineStyle: { color: axisColor, width: 5 } },
    axisTick: { inside: true, length: 18, customValues: xTicks, lineStyle: { color: axisColor, width: 3 } },
    axisLabel: { customValues: xTicks, margin: 30, fontSize: 68, fontFamily: font, color: axisColor },
    splitLine: { show: false }
  }, {
    type: 'value',
    position: 'top',
    min: 27.85,
    max: 70,
    axisLine: { onZero: false, lineStyle: { color: '#6a6a6a', width: 4 } },
    axisTick: { inside: true, length: 18, customValues: xTicks, lineStyle: { color: axisColor, width: 3 } },
    axisLabel: { show: false },
    splitLine: { show: false }
  }],
  yAxis: [{
    type: 'value',
    min: 1,
    max: 5,
    interval: 0.5,
    name: 'Intensity',
    nameLocation: 'middle',
    nameGap: 140,
    nameTextStyle: { fontSize: 74, fontFamily: font, color: axisColor },
    axisLine: { onZero: false, lineStyle: { color: axisColor, width: 5 } },
    axisTick: { inside: true, length: 18, lineStyle: { color: axisColor, width: 3 } },
    axisLabel: { margin: 32, fontSize: 66, fontFamily: font, color: axisColor },
    splitLine: { show: false }
  }, {
    type: 'value',
    position: 'right',
    min: 1,
    max: 5,
    interval: 0.5,
    axisLine: { onZero: false, lineStyle: { color: '#555555', width: 4 } },
    axisTick: { inside: true, length: 18, lineStyle: { color: axisColor, width: 3 } },
    axisLabel: { show: false },
    splitLine: { show: false }
  }],
  graphic: [
    { type: 'text', left: 276, top: 36, style: { text: '×10', fontSize: 70, fontFamily: font, fill: '#444444' } },
    { type: 'text', left: 404, top: 16, style: { text: '4', fontSize: 50, fontFamily: font, fill: '#444444' } },
    { type: 'rect', left: 25, top: 1380, shape: { width: 18, height: 18 }, style: { fill: '#8a8a8a' } }
  ],
  series: series
};

chart.setOption(option);
</script>
</body>
</html>
